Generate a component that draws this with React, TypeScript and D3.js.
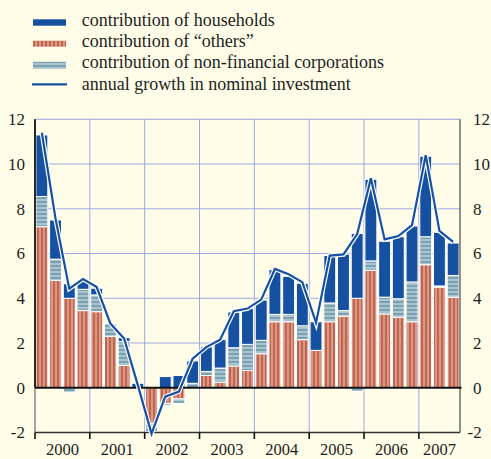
import React, { useRef, useEffect } from "react";
import * as d3 from "d3";

// quarterly data, 2000 Q1 - 2007 Q3 (percentage points / annual % change)
const years = ["2000", "2001", "2002", "2003", "2004", "2005", "2006", "2007"];
const quarters = [
  "2000Q1", "2000Q2", "2000Q3", "2000Q4",
  "2001Q1", "2001Q2", "2001Q3", "2001Q4",
  "2002Q1", "2002Q2", "2002Q3", "2002Q4",
  "2003Q1", "2003Q2", "2003Q3", "2003Q4",
  "2004Q1", "2004Q2", "2004Q3", "2004Q4",
  "2005Q1", "2005Q2", "2005Q3", "2005Q4",
  "2006Q1", "2006Q2", "2006Q3", "2006Q4",
  "2007Q1", "2007Q2", "2007Q3",
];
const households = [
  2.75, 1.75, 0.65, 0.45, 0.3, 0, 0.17, 0.2, 0, 0.5, 0.55, 1.0, 1.1, 1.27, 1.6, 1.6,
  1.8, 2.0, 1.7, 1.9, 1.28, 2.12, 2.52, 2.9, 3.65, 2.5, 2.77, 2.5, 3.6, 2.4, 1.45,
];
const others = [
  7.2, 4.8, 4.0, 3.45, 3.4, 2.3, 1.0, 0, -1.6, -0.7, -0.5, 0, 0.55, 0.25, 0.97, 0.77,
  1.52, 2.95, 2.95, 2.15, 1.67, 2.95, 3.2, 4.0, 5.25, 3.3, 3.15, 2.95, 5.5, 4.5, 4.05,
];
const nonFinancial = [
  1.35, 0.95, -0.2, 0.95, 0.75, 0.57, 1.07, 0, -0.35, -0.1, -0.2, 0.2, 0.18, 0.63, 0.82, 1.17,
  0.6, 0.33, 0.33, 0.62, 0, 0.84, 0.25, -0.15, 0.42, 0.75, 0.83, 1.78, 1.25, 0.05, 0.97,
];
const investmentGrowth = [
  11.4, 7.55, 4.43, 4.86, 4.5, 2.87, 2.2, 0.12, -2.05, -0.4, -0.17, 1.3, 1.82, 2.15, 3.42, 3.54,
  3.94, 5.31, 5.07, 4.72, 2.91, 5.91, 5.96, 6.87, 9.36, 6.63, 6.78, 7.27, 10.4, 7.01, 6.52,
];
const yTicks = [-2, 0, 2, 4, 6, 8, 10, 12];
const legendLabels = [
  "contribution of households",
  "contribution of \u201cothers\u201d",
  "contribution of non-financial corporations",
  "annual growth in nominal investment",
];

const BG = "#fffde8";
const BLUE = "#1550a1";
const GRID = "#9aa7e2";
const FONT = "'Liberation Serif', 'Times New Roman', serif";

export default function App() {
  const svgRef = useRef<SVGSVGElement>(null);

  useEffect(() => {
    const w = 491;
    const h = 459;
    const left = 35;
    const right = 460;
    const svg = d3.select(svgRef.current);
    svg.selectAll("*").remove();

    svg.append("rect").attr("width", w).attr("height", h).attr("fill", BG);

    const defs = svg.append("defs");
    const pOthers = defs
      .append("pattern")
      .attr("id", "others-hatch")
      .attr("patternUnits", "userSpaceOnUse")
      .attr("width", 4)
      .attr("height", 4);
    pOthers.append("rect").attr("width", 4).attr("height", 4).attr("fill", "#d99a83");
    pOthers
      .append("line")
      .attr("x1", 2).attr("x2", 2).attr("y1", 0).attr("y2", 4)
      .attr("stroke", "#b3362b").attr("stroke-width", 1.1);
    const pNfc = defs
      .append("pattern")
      .attr("id", "nfc-hatch")
      .attr("patternUnits", "userSpaceOnUse")
      .attr("width", 4)
      .attr("height", 4);
    pNfc.append("rect").attr("width", 4).attr("height", 4).attr("fill", "#abc3cd");
    pNfc
      .append("line")
      .attr("x1", 0).attr("x2", 4).attr("y1", 2).attr("y2", 2)
      .attr("stroke", "#5089a0").attr("stroke-width", 1.1);

    const x = d3.scaleBand().domain(quarters).range([left, right]).padding(0);
    const y = d3.scaleLinear().domain([-2, 12]).range([432.5, 119.3]);
    const bw = x.bandwidth();

    // grid
    const grid = svg.append("g");
    grid
      .selectAll("line.h")
      .data(yTicks.filter((t) => t > 0))
      .join("line")
      .attr("x1", left).attr("x2", right)
      .attr("y1", (d) => y(d)).attr("y2", (d) => y(d))
      .attr("stroke", GRID).attr("stroke-width", 1);
    const yearStarts = years.map((yr) => x(yr + "Q1") as number);
    grid
      .selectAll("line.v")
      .data(yearStarts.slice(1))
      .join("line")
      .attr("x1", (d) => d).attr("x2", (d) => d)
      .attr("y1", y(12)).attr("y2", y(-2))
      .attr("stroke", GRID).attr("stroke-width", 1);

    // stacked bars
    const rows = quarters.map((q, i) => ({
      quarter: q,
      others: others[i],
      nfc: nonFinancial[i],
      households: households[i],
    }));
    const series = d3
      .stack<any>()
      .keys(["others", "nfc", "households"])
      .offset(d3.stackOffsetDiverging)(rows);
    const fills: Record<string, string> = {
      others: "url(#others-hatch)",
      nfc: "url(#nfc-hatch)",
      households: BLUE,
    };
    svg
      .append("g")
      .selectAll("g")
      .data(series)
      .join("g")
      .attr("fill", (s) => fills[s.key])
      .selectAll("rect")
      .data((s) => s.filter((d) => d[1] - d[0] > 0.001))
      .join("rect")
      .attr("x", (d) => (x(d.data.quarter) as number) + 0.9)
      .attr("width", bw - 1.8)
      .attr("y", (d) => y(Math.max(d[0], d[1])))
      .attr("height", (d) => Math.abs(y(d[0]) - y(d[1])))
      .attr("stroke", "#ffffff")
      .attr("stroke-width", 1);

    // axes
    svg.append("line")
      .attr("x1", right).attr("x2", right).attr("y1", y(12)).attr("y2", y(-2))
      .attr("stroke", "#555").attr("stroke-width", 1.3);
    svg.append("line")
      .attr("x1", left).attr("x2", left).attr("y1", y(12)).attr("y2", y(0))
      .attr("stroke", "#111").attr("stroke-width", 1.8);
    svg.append("line")
      .attr("x1", left).attr("x2", left).attr("y1", y(0)).attr("y2", y(-2))
      .attr("stroke", "#777").attr("stroke-width", 1.3);
    svg.append("line")
      .attr("x1", left).attr("x2", right + 1.5).attr("y1", y(0)).attr("y2", y(0))
      .attr("stroke", "#111").attr("stroke-width", 2);
    svg.append("line")
      .attr("x1", left).attr("x2", right).attr("y1", y(-2)).attr("y2", y(-2))
      .attr("stroke", "#333").attr("stroke-width", 1.5);
    svg
      .append("g")
      .selectAll("line")
      .data(yearStarts)
      .join("line")
      .attr("x1", (d) => d).attr("x2", (d) => d)
      .attr("y1", y(-2)).attr("y2", y(-2) + 6.5)
      .attr("stroke", "#111").attr("stroke-width", 1.6);

    // growth line
    const line = d3
      .line<number>()
      .x((_, i) => (x(quarters[i]) as number) + bw / 2)
      .y((d) => y(d));
    svg.append("path")
      .attr("d", line(investmentGrowth))
      .attr("fill", "none").attr("stroke", "#ffffff").attr("stroke-width", 4.6)
      .attr("stroke-linejoin", "miter");
    svg.append("path")
      .attr("d", line(investmentGrowth))
      .attr("fill", "none").attr("stroke", BLUE).attr("stroke-width", 2.2)
      .attr("stroke-linejoin", "miter");

    // tick labels
    const txt = svg.append("g").attr("font-family", FONT).attr("font-size", 17).attr("fill", "#1e1e1e");
    txt
      .selectAll("text.l")
      .data(yTicks)
      .join("text")
      .attr("x", 25)
      .attr("y", (d) => y(d))
      .attr("dy", "0.35em")
      .attr("text-anchor", "end")
      .text((d) => String(d));
    txt
      .selectAll("text.r")
      .data(yTicks)
      .join("text")
      .attr("x", (d) => (d < 0 ? 467.5 : 473))
      .attr("y", (d) => y(d))
      .attr("dy", "0.35em")
      .attr("text-anchor", "start")
      .text((d) => String(d));
    txt
      .selectAll("text.yr")
      .data(years)
      .join("text")
      .attr("x", (d, i) => (yearStarts[i] + (i < years.length - 1 ? yearStarts[i + 1] : right)) / 2)
      .attr("y", 455)
      .attr("font-size", 16.5)
      .attr("text-anchor", "middle")
      .text((d) => d);

    // legend
    const lg = svg.append("g");
    const rowY = [25.7, 46.8, 68, 89.5];
    lg.append("rect").attr("x", 33).attr("y", 19.3).attr("width", 33).attr("height", 6.4).attr("fill", BLUE);
    lg.append("rect").attr("x", 33).attr("y", 40.7).attr("width", 33).attr("height", 6).attr("fill", "url(#others-hatch)");
    lg.append("rect").attr("x", 33).attr("y", 61.8).attr("width", 33).attr("height", 7).attr("fill", "url(#nfc-hatch)");
    lg.append("line").attr("x1", 32).attr("x2", 67).attr("y1", 84.3).attr("y2", 84.3)
      .attr("stroke", BLUE).attr("stroke-width", 2.2);
    lg.selectAll("text")
      .data(legendLabels)
      .join("text")
      .attr("x", 81.7)
      .attr("y", (_, i) => rowY[i])
      .attr("font-family", FONT)
      .attr("font-size", 18)
      .attr("fill", "#1e1e1e")
      .text((d) => d);
  }, []);

  return (
    <svg
      ref={svgRef}
      width={491}
      height={459}
      style={{ position: "absolute", left: 0, top: 0, display: "block" }}
    />
  );
}
